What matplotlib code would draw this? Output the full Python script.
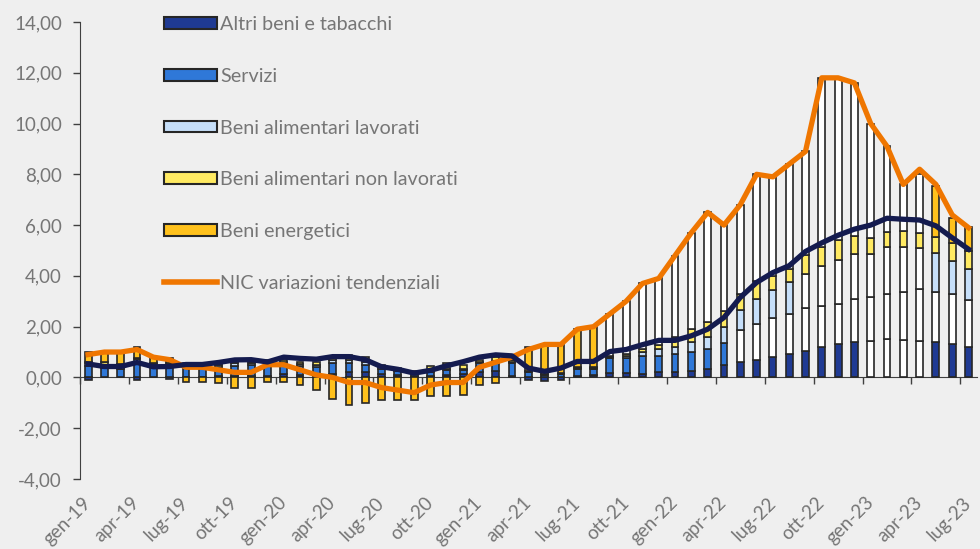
import numpy as np
import matplotlib
matplotlib.use('Agg')
import matplotlib.pyplot as plt
from matplotlib.patches import Patch
from matplotlib.lines import Line2D

# mesi gen-19 ... lug-23
mesi = ['gen', 'feb', 'mar', 'apr', 'mag', 'giu', 'lug', 'ago', 'set', 'ott', 'nov', 'dic']
months = [m + '-' + str(a) for a in range(19, 24) for m in mesi][:55]

# contributi alla variazione tendenziale (punti percentuali)
altri_beni = [-0.10, 0.02, 0.00, -0.10, 0.02, -0.05, 0.02, 0.03, 0.05, 0.05, 0.05, 0.05,
              0.15, 0.10, 0.10, 0.15, 0.20, 0.20, 0.15, 0.10, 0.05, 0.05, 0.10, 0.15,
              0.20, 0.25, 0.05, -0.10, -0.13, -0.10, 0.05, 0.10, 0.16, 0.16, 0.13, 0.20,
              0.22, 0.26, 0.33, 0.49, 0.59, 0.68, 0.79, 0.94, 1.05, 1.21, 1.31, 1.38,
              1.44, 1.50, 1.47, 1.44, 1.38, 1.31, 1.21]
servizi = [0.45, 0.35, 0.32, 0.60, 0.40, 0.40, 0.40, 0.38, 0.35, 0.42, 0.45, 0.42,
           0.35, 0.35, 0.30, 0.40, 0.35, 0.30, 0.20, 0.15, 0.10, 0.15, 0.20, 0.15,
           0.35, 0.35, 0.50, 0.20, 0.10, 0.12, 0.30, 0.25, 0.60, 0.60, 0.72, 0.66,
           0.70, 0.76, 0.79, 0.87, 1.29, 1.44, 1.54, 1.57, 1.68, 1.60, 1.57, 1.71,
           1.73, 1.80, 1.88, 2.03, 1.97, 1.97, 1.84]
alim_lavorati = [0.10, 0.12, 0.12, 0.12, 0.10, 0.10, 0.10, 0.10, 0.08, 0.08, 0.08, 0.08,
                 0.10, 0.08, 0.10, 0.15, 0.15, 0.12, 0.08, 0.07, 0.06, 0.05, 0.05, 0.05,
                 0.05, 0.05, 0.05, 0.03, 0.02, 0.02, 0.02, 0.03, 0.05, 0.10, 0.16, 0.26,
                 0.26, 0.37, 0.46, 0.62, 0.77, 0.98, 1.12, 1.25, 1.36, 1.59, 1.73, 1.77,
                 1.70, 1.84, 1.77, 1.64, 1.54, 1.31, 1.22]
alim_non_lavorati = [0.05, 0.10, 0.10, 0.05, 0.05, 0.05, 0.06, 0.05, 0.04, 0.07, 0.04, 0.13,
                     0.08, 0.07, 0.09, 0.15, 0.20, 0.20, 0.07, 0.07, 0.06, 0.20, 0.20, 0.15,
                     0.10, 0.15, 0.10, 0.03, 0.03, 0.03, 0.03, 0.05, 0.02, 0.05, 0.10, 0.17,
                     0.43, 0.50, 0.59, 0.63, 0.63, 0.70, 0.54, 0.50, 0.73, 0.75, 0.79, 0.72,
                     0.63, 0.60, 0.63, 0.59, 0.66, 0.72, 0.72]
energetici = [0.40, 0.41, 0.46, 0.43, 0.23, 0.20, -0.18, -0.16, -0.22, -0.42, -0.42, -0.18,
              -0.18, -0.30, -0.49, -0.85, -1.10, -1.02, -0.90, -0.89, -0.87, -0.75, -0.75, -0.70,
              -0.30, -0.20, 0.10, 0.94, 1.15, 1.20, 1.50, 1.57, 1.67, 2.09, 2.59, 2.61,
              3.19, 3.81, 4.33, 3.39, 3.52, 4.20, 3.91, 4.14, 4.08, 6.65, 6.40, 6.02,
              4.50, 3.36, 1.85, 2.30, 1.97, 0.98, 0.94]

# NIC e componente di fondo
nic = [0.9, 1.0, 1.0, 1.1, 0.8, 0.7, 0.4, 0.4, 0.3, 0.2, 0.2, 0.5,
       0.5, 0.3, 0.1, 0.0, -0.2, -0.2, -0.4, -0.5, -0.6, -0.3, -0.2, -0.2,
       0.4, 0.6, 0.8, 1.1, 1.3, 1.3, 1.9, 2.0, 2.5, 3.0, 3.7, 3.9,
       4.8, 5.7, 6.5, 6.0, 6.8, 8.0, 7.9, 8.4, 8.9, 11.8, 11.8, 11.6,
       10.0, 9.1, 7.6, 8.2, 7.6, 6.4, 5.9]
fondo = [0.53, 0.43, 0.43, 0.59, 0.42, 0.43, 0.51, 0.51, 0.59, 0.69, 0.70, 0.61,
         0.80, 0.75, 0.72, 0.82, 0.82, 0.70, 0.42, 0.32, 0.17, 0.28, 0.46, 0.62,
         0.80, 0.89, 0.85, 0.37, 0.24, 0.37, 0.63, 0.63, 1.02, 1.10, 1.29, 1.46,
         1.46, 1.64, 1.90, 2.36, 3.15, 3.74, 4.13, 4.40, 4.96, 5.30, 5.60, 5.84,
         6.00, 6.27, 6.23, 6.20, 5.97, 5.50, 5.05]

# (nome, valori, colore, mesi con riempimento bianco)
series = [
    ('Altri beni e tabacchi', altri_beni, '#1f3a93', (48, 51)),
    ('Servizi', servizi, '#2f78d8', (40, 54)),
    ('Beni alimentari lavorati', alim_lavorati, '#c6dffa', (44, 51)),
    ('Beni alimentari non lavorati', alim_non_lavorati, '#ffea62', None),
    ('Beni energetici', energetici, '#ffc11c', (32, 51)),
]

bg = '#efefef'
grey = '#767676'
edge = '#262626'
fam = ['Lato', 'DejaVu Sans']

fig = plt.figure(figsize=(9.8, 5.49), dpi=100, facecolor=bg)
ax = fig.add_axes([0.0816, 0.1275, 0.915, 0.8325])
ax.set_facecolor(bg)

x = np.arange(len(months))
pos_bottom = np.zeros(len(months))
neg_bottom = np.zeros(len(months))
for name, vals, col, white in series:
    v = np.array(vals)
    bottom = np.where(v >= 0, pos_bottom, neg_bottom)
    colors = [col] * len(v)
    if white is not None:
        for i in range(white[0], white[1] + 1):
            colors[i] = 'white'
    ax.bar(x, v, width=0.42, bottom=bottom, color=colors, edgecolor=edge,
           linewidth=1.2, zorder=2)
    pos_bottom = pos_bottom + np.where(v >= 0, v, 0)
    neg_bottom = neg_bottom + np.where(v < 0, v, 0)

ax.plot(x, nic, color='#ef7600', lw=3.8, zorder=3)
ax.plot(x, fondo, color='#141b4f', lw=3.8, zorder=4)

ax.set_xlim(-0.5, len(months) - 0.5)
ax.set_ylim(-4, 14)
yt = np.arange(-4, 15, 2)
ax.set_yticks(yt)
ax.set_yticklabels(['{:.2f}'.format(t).replace('.', ',') for t in yt])
ax.tick_params(axis='y', colors='#404040', labelcolor=grey, labelsize=13.5,
               length=5, width=1, pad=8)

ax.spines['top'].set_visible(False)
ax.spines['right'].set_visible(False)
ax.spines['left'].set_color('#404040')
ax.spines['bottom'].set_position(('data', 0))
ax.spines['bottom'].set_color('#404040')
ax.spines['bottom'].set_zorder(1)
ax.set_xticks(np.arange(-0.5, len(months), 3))
ax.set_xticklabels([])
ax.tick_params(axis='x', colors='#404040', length=5, width=1)

# etichette in basso
sec = ax.secondary_xaxis(0)
sec.set_xticks(x[::3])
sec.set_xticklabels(months[::3], rotation=45, ha='right', va='center',
                    rotation_mode='anchor', color=grey, fontsize=13.5)
sec.tick_params(length=0, pad=15)
sec.spines['bottom'].set_visible(False)

handles = [Patch(facecolor=c, edgecolor=edge, linewidth=1.5) for _, _, c, _ in series]
handles.append(Line2D([0], [0], color='#ef7600', lw=4))
labels = [s[0] for s in series] + ['NIC variazioni tendenziali']
leg = fig.legend(handles, labels, loc='upper left', bbox_to_anchor=(0.149, 1.003),
                 frameon=False, fontsize=14.2, labelcolor=grey, handlelength=2.7,
                 handleheight=0.55, handletextpad=0.15, labelspacing=1.76)

for t in ax.get_yticklabels() + sec.get_xticklabels() + leg.get_texts():
    t.set_family(fam)

fig.savefig('out.png', dpi=100, facecolor=bg)
